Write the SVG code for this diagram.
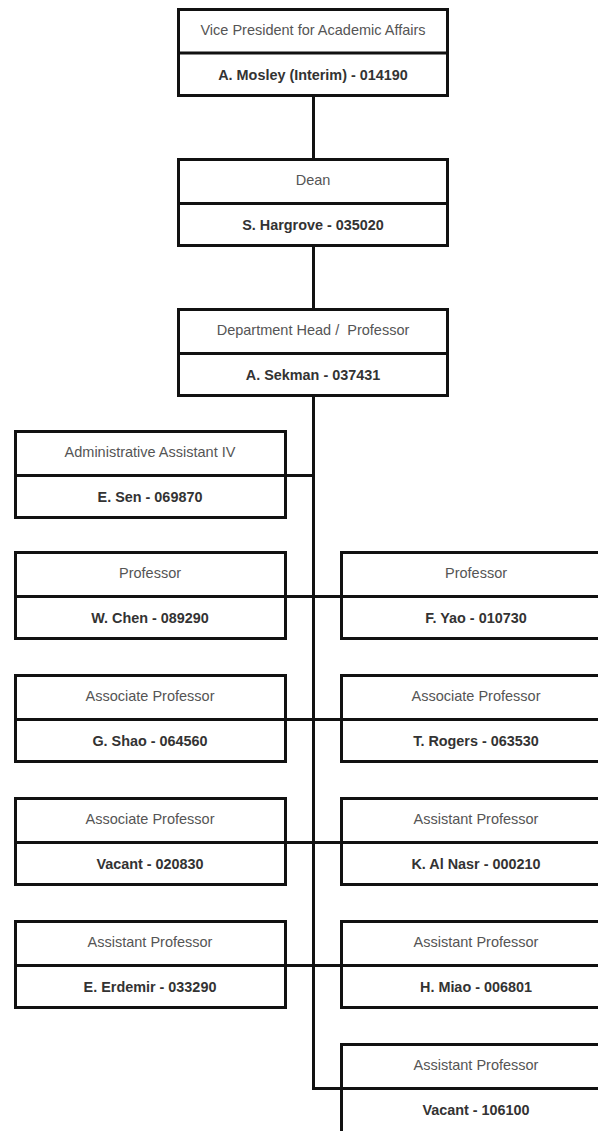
<svg xmlns="http://www.w3.org/2000/svg" width="598" height="1131" viewBox="0 0 598 1131">
<style>
.box{fill:#fff;stroke:#111;stroke-width:3}
.div{stroke:#111;stroke-width:3}
.con{fill:none;stroke:#111;stroke-width:3}
.t{font-family:"Liberation Sans",Arial,sans-serif;font-size:14.5px;fill:#555;text-anchor:middle}
.n{font-family:"Liberation Sans",Arial,sans-serif;font-size:14.4px;font-weight:bold;fill:#333;text-anchor:middle}
</style>
<rect width="598" height="1131" fill="#fff"/>
<g id="connectors">
<path class="con" d="M313.5 97V158M313.5 247V308M313.5 397V1088.5H341.5"/>
<path class="con" d="M285.5 475.5H313.5"/>
<path class="con" d="M285.5 596.5H341.5"/>
<path class="con" d="M285.5 719.5H341.5"/>
<path class="con" d="M285.5 842.5H341.5"/>
<path class="con" d="M285.5 965.5H341.5"/>
</g>
<g id="vp"><rect class="box" x="178.5" y="9.5" width="269" height="86"/><line class="div" x1="178.5" y1="53" x2="447.5" y2="53"/><text class="t" x="313" y="35">Vice President for Academic Affairs</text><text class="n" x="313" y="80">A. Mosley (Interim) - 014190</text></g>
<g id="dean"><rect class="box" x="178.5" y="159.5" width="269" height="86"/><line class="div" x1="178.5" y1="203.5" x2="447.5" y2="203.5"/><text class="t" x="313" y="185">Dean</text><text class="n" x="313" y="230">S. Hargrove - 035020</text></g>
<g id="head"><rect class="box" x="178.5" y="309.5" width="269" height="86"/><line class="div" x1="178.5" y1="353.5" x2="447.5" y2="353.5"/><text class="t" x="313" y="335" xml:space="preserve">Department Head /  Professor</text><text class="n" x="313" y="380">A. Sekman - 037431</text></g>
<g id="admin"><rect class="box" x="15.5" y="431.5" width="270" height="86"/><line class="div" x1="15.5" y1="475.5" x2="285.5" y2="475.5"/><text class="t" x="150" y="457">Administrative Assistant IV</text><text class="n" x="150" y="502">E. Sen - 069870</text></g>
<g id="chen"><rect class="box" x="15.5" y="552.5" width="270" height="86"/><line class="div" x1="15.5" y1="596.5" x2="285.5" y2="596.5"/><text class="t" x="150" y="578">Professor</text><text class="n" x="150" y="623">W. Chen - 089290</text></g>
<g id="yao"><rect class="box" x="341.5" y="552.5" width="270" height="86"/><line class="div" x1="341.5" y1="596.5" x2="611.5" y2="596.5"/><text class="t" x="476" y="578">Professor</text><text class="n" x="476" y="623">F. Yao - 010730</text></g>
<g id="shao"><rect class="box" x="15.5" y="675.5" width="270" height="86"/><line class="div" x1="15.5" y1="719.5" x2="285.5" y2="719.5"/><text class="t" x="150" y="701">Associate Professor</text><text class="n" x="150" y="746">G. Shao - 064560</text></g>
<g id="rogers"><rect class="box" x="341.5" y="675.5" width="270" height="86"/><line class="div" x1="341.5" y1="719.5" x2="611.5" y2="719.5"/><text class="t" x="476" y="701">Associate Professor</text><text class="n" x="476" y="746">T. Rogers - 063530</text></g>
<g id="vacant1"><rect class="box" x="15.5" y="798.5" width="270" height="86"/><line class="div" x1="15.5" y1="842.5" x2="285.5" y2="842.5"/><text class="t" x="150" y="824">Associate Professor</text><text class="n" x="150" y="869">Vacant - 020830</text></g>
<g id="alnasr"><rect class="box" x="341.5" y="798.5" width="270" height="86"/><line class="div" x1="341.5" y1="842.5" x2="611.5" y2="842.5"/><text class="t" x="476" y="824">Assistant Professor</text><text class="n" x="476" y="869">K. Al Nasr - 000210</text></g>
<g id="erdemir"><rect class="box" x="15.5" y="921.5" width="270" height="86"/><line class="div" x1="15.5" y1="965.5" x2="285.5" y2="965.5"/><text class="t" x="150" y="947">Assistant Professor</text><text class="n" x="150" y="992">E. Erdemir - 033290</text></g>
<g id="miao"><rect class="box" x="341.5" y="921.5" width="270" height="86"/><line class="div" x1="341.5" y1="965.5" x2="611.5" y2="965.5"/><text class="t" x="476" y="947">Assistant Professor</text><text class="n" x="476" y="992">H. Miao - 006801</text></g>
<g id="vacant2"><rect class="box" x="341.5" y="1044.5" width="270" height="100"/><line class="div" x1="341.5" y1="1088.5" x2="611.5" y2="1088.5"/><text class="t" x="476" y="1070">Assistant Professor</text><text class="n" x="476" y="1115">Vacant - 106100</text></g>
</svg>
